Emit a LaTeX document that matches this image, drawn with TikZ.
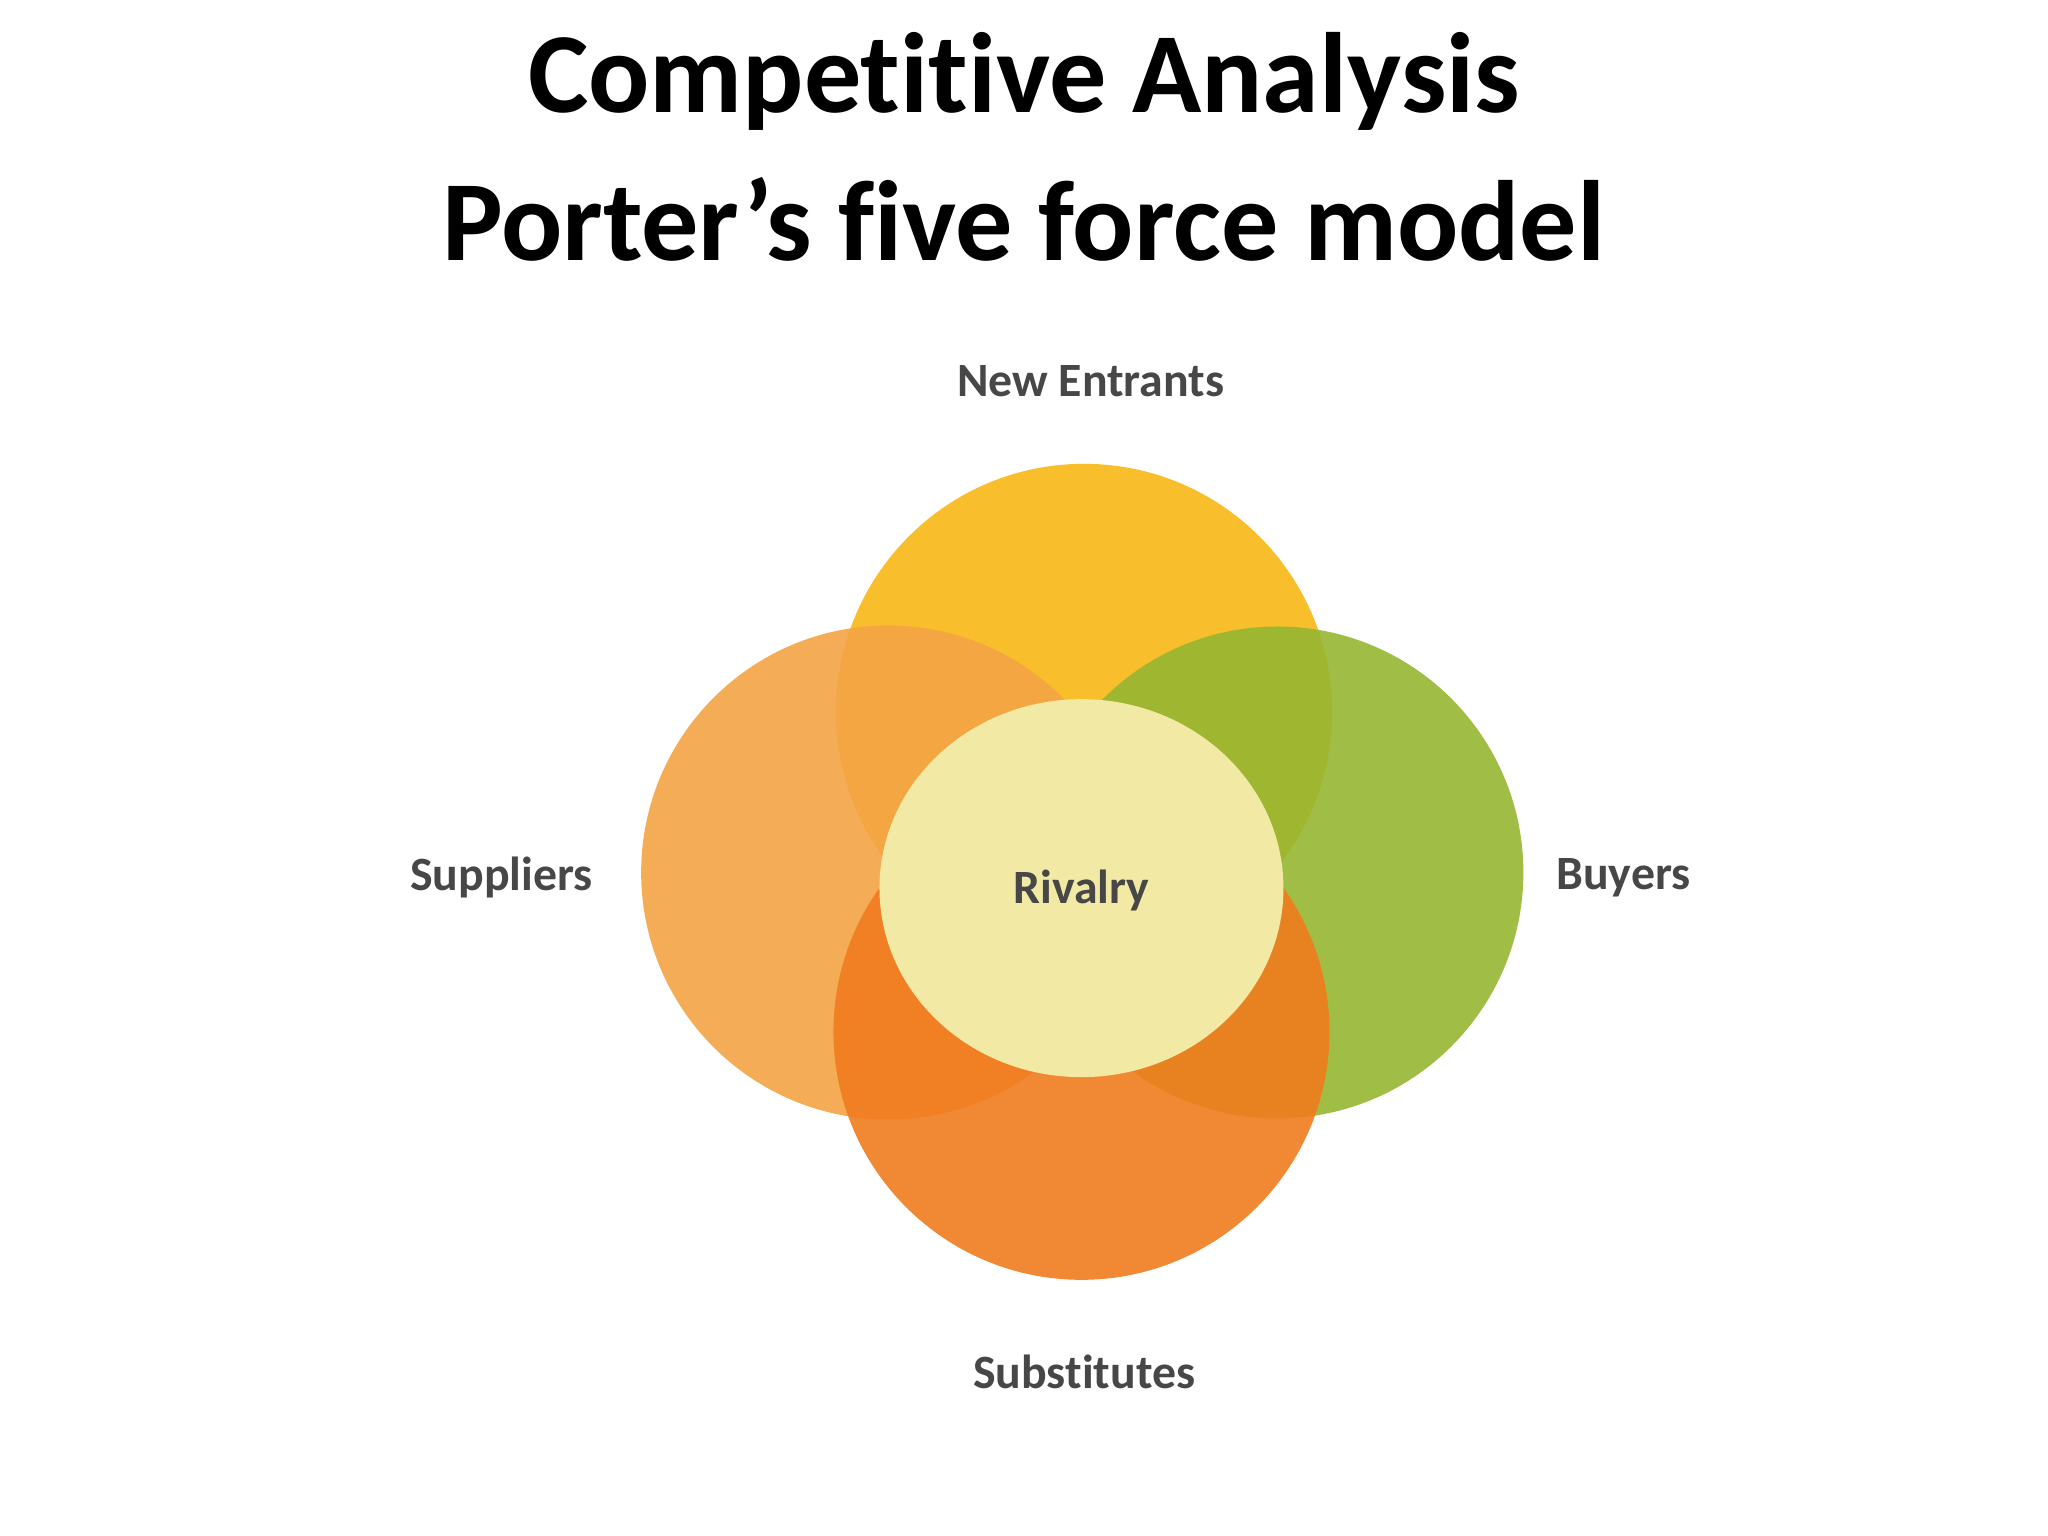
\documentclass[tikz,border=0pt]{standalone}
\usepackage{fontspec}
\setmainfont[Ligatures={NoCommon}]{Carlito}
\begin{document}
\begin{tikzpicture}[x=0.01306cm,y=-0.01306cm,
  ttl/.style={font=\fontsize{32.5}{38}\selectfont\bfseries},
  lbl/.style={font=\fontsize{13.6}{16}\selectfont\bfseries,text=black!72},
  blob/.style={opacity=0.9}]
\useasboundingbox[fill=white] (0,0) rectangle (1568,1176);
\node[ttl] (t1) at (784,62) {Competitive Analysis};
\node[ttl] (t2) at (784,168) {Porter’s five force model};
\fill[blob,fill={rgb,255:red,249;green,183;blue,20}] (830,545) circle[radius=2.48cm];
\fill[blob,fill={rgb,255:red,243;green,164;blue,68}] (680,668) circle[radius=2.47cm];
\fill[blob,fill={rgb,255:red,150;green,182;blue,50}] (978,668) circle[radius=2.46cm];
\fill[blob,fill={rgb,255:red,240;green,124;blue,30}] (828,790) circle[radius=2.48cm];
\fill[fill={rgb,255:red,242;green,233;blue,164}] (828,680) ellipse[x radius=2.02cm,y radius=1.89cm];
\node[lbl] (ne) at (835,292) {New Entrants};
\node[lbl] (su) at (384,672) {Suppliers};
\node[lbl] (ri) at (828,682) {Rivalry};
\node[lbl] (bu) at (1243,672) {Buyers};
\node[lbl] (sb) at (830,1050) {Substitutes};
\end{tikzpicture}
\end{document}
